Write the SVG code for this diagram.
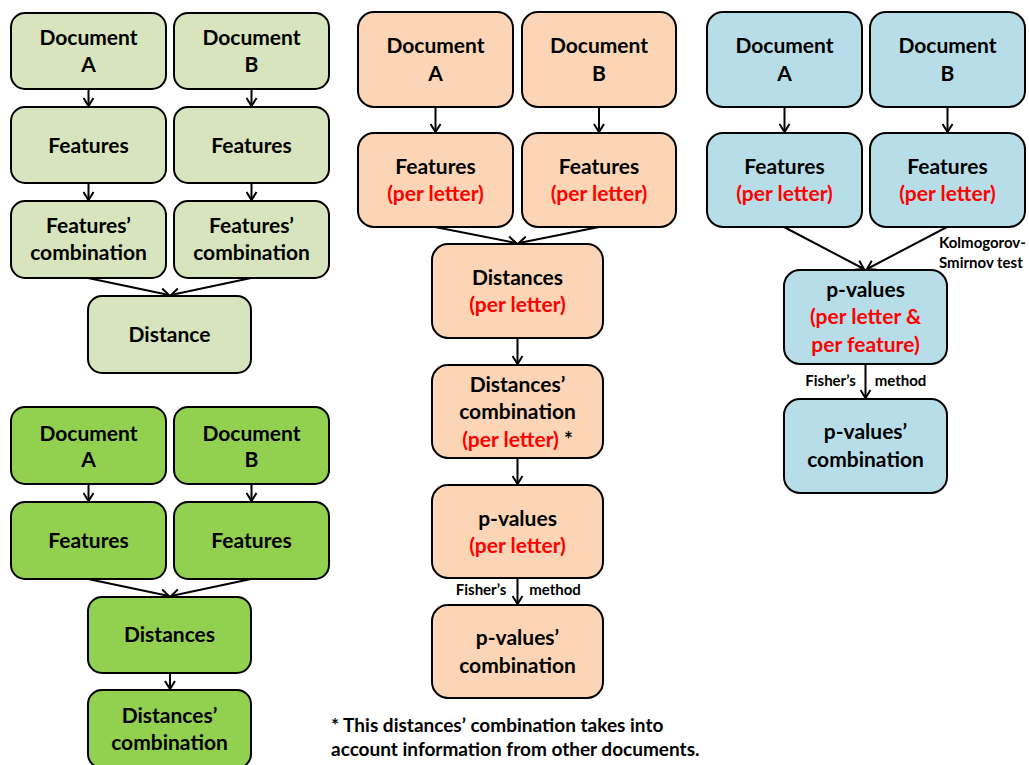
<svg xmlns="http://www.w3.org/2000/svg" width="1029" height="765" viewBox="0 0 1029 765">
<style>
.b{stroke:#000;stroke-width:2}
.lg{fill:#d7e4bd}.g{fill:#92d050}.p{fill:#fbd5b5}.bl{fill:#b7dee8}
text{font-family:Lato,"Liberation Sans",sans-serif;font-weight:bold;font-size:21px;fill:#000;text-anchor:middle}
.r{fill:#ff0000}
.s{font-size:15px}
.fn{font-size:19px;text-anchor:start}
.c{stroke:#000;stroke-width:2;fill:none;marker-end:url(#ah)}
</style>
<defs>
<marker id="ah" viewBox="0 0 12 12" refX="10" refY="6" markerWidth="6" markerHeight="6" markerUnits="strokeWidth" orient="auto">
<path d="M2,1 L10,6 L2,11" fill="none" stroke="#000" stroke-width="2"/>
</marker>
</defs>
<g id="connectors">
<path class="c" d="M88.5,89V106"/><path class="c" d="M251.5,89V106"/>
<path class="c" d="M88.5,183V200"/><path class="c" d="M251.5,183V200"/>
<path class="c" d="M88,278L169,295"/><path class="c" d="M251,278L171,295"/>
<path class="c" d="M88.5,484V501"/><path class="c" d="M251.5,484V501"/>
<path class="c" d="M88,579L169,596"/><path class="c" d="M251,579L171,596"/>
<path class="c" d="M170,673V689"/>
<path class="c" d="M435.5,107V132"/><path class="c" d="M599,107V132"/>
<path class="c" d="M435,227L516,243"/><path class="c" d="M599,227L519,243"/>
<path class="c" d="M517.5,338V364"/><path class="c" d="M517.5,458V484"/><path class="c" d="M517.5,578V604"/>
<path class="c" d="M784.5,107V132"/><path class="c" d="M947.5,107V132"/>
<path class="c" d="M784,227L864,269"/><path class="c" d="M947,227L867,269"/>
<path class="c" d="M865.5,364V398"/>
</g>
<g id="tl-docA"><rect class="b lg" x="11" y="13" width="155" height="76" rx="14"/><text x="88.5" y="45">Document</text><text x="88.5" y="72">A</text></g>
<g id="tl-docB"><rect class="b lg" x="174" y="13" width="155" height="76" rx="14"/><text x="251.5" y="45">Document</text><text x="251.5" y="72">B</text></g>
<g id="tl-featA"><rect class="b lg" x="11" y="107" width="155" height="76" rx="14"/><text x="88.5" y="153">Features</text></g>
<g id="tl-featB"><rect class="b lg" x="174" y="107" width="155" height="76" rx="14"/><text x="251.5" y="153">Features</text></g>
<g id="tl-combA"><rect class="b lg" x="11" y="201" width="155" height="77" rx="14"/><text x="88.5" y="233">Features’</text><text x="88.5" y="260">combination</text></g>
<g id="tl-combB"><rect class="b lg" x="174" y="201" width="155" height="77" rx="14"/><text x="251.5" y="233">Features’</text><text x="251.5" y="260">combination</text></g>
<g id="tl-dist"><rect class="b lg" x="88" y="296" width="163" height="77" rx="14"/><text x="169.5" y="342">Distance</text></g>

<g id="bl-docA"><rect class="b g" x="11" y="407" width="155" height="77" rx="14"/><text x="88.5" y="441">Document</text><text x="88.5" y="467">A</text></g>
<g id="bl-docB"><rect class="b g" x="174" y="407" width="155" height="77" rx="14"/><text x="251.5" y="441">Document</text><text x="251.5" y="467">B</text></g>
<g id="bl-featA"><rect class="b g" x="11" y="502" width="155" height="77" rx="14"/><text x="88.5" y="548">Features</text></g>
<g id="bl-featB"><rect class="b g" x="174" y="502" width="155" height="77" rx="14"/><text x="251.5" y="548">Features</text></g>
<g id="bl-dist"><rect class="b g" x="88" y="597" width="163" height="76" rx="14"/><text x="169.5" y="642">Distances</text></g>
<g id="bl-comb"><rect class="b g" x="88" y="690" width="163" height="78" rx="14"/><text x="169.5" y="723">Distances’</text><text x="169.5" y="750">combination</text></g>

<g id="m-docA"><rect class="b p" x="358" y="12" width="155" height="95" rx="16"/><text x="435.5" y="53">Document</text><text x="435.5" y="81">A</text></g>
<g id="m-docB"><rect class="b p" x="522" y="12" width="154" height="95" rx="16"/><text x="599" y="53">Document</text><text x="599" y="81">B</text></g>
<g id="m-featA"><rect class="b p" x="358" y="133" width="155" height="94" rx="16"/><text x="435.5" y="174">Features</text><text class="r" x="435.5" y="201">(per letter)</text></g>
<g id="m-featB"><rect class="b p" x="522" y="133" width="154" height="94" rx="16"/><text x="599" y="174">Features</text><text class="r" x="599" y="201">(per letter)</text></g>
<g id="m-dist"><rect class="b p" x="432" y="244" width="171" height="94" rx="16"/><text x="517.5" y="285">Distances</text><text class="r" x="517.5" y="312">(per letter)</text></g>
<g id="m-comb"><rect class="b p" x="432" y="365" width="171" height="93" rx="16"/><text x="517.5" y="392">Distances’</text><text x="517.5" y="419">combination</text><text x="517.5" y="447"><tspan class="r">(per letter)</tspan> *</text></g>
<g id="m-pval"><rect class="b p" x="432" y="485" width="171" height="93" rx="16"/><text x="517.5" y="526">p-values</text><text class="r" x="517.5" y="553">(per letter)</text></g>
<g id="m-pcomb"><rect class="b p" x="432" y="605" width="171" height="93" rx="16"/><text x="517.5" y="645">p-values’</text><text x="517.5" y="673">combination</text></g>
<text class="s" x="481" y="595">Fisher’s</text><text class="s" x="555" y="595">method</text>

<g id="r-docA"><rect class="b bl" x="707" y="12" width="155" height="95" rx="16"/><text x="784.5" y="53">Document</text><text x="784.5" y="81">A</text></g>
<g id="r-docB"><rect class="b bl" x="870" y="12" width="155" height="95" rx="16"/><text x="947.5" y="53">Document</text><text x="947.5" y="81">B</text></g>
<g id="r-featA"><rect class="b bl" x="707" y="133" width="155" height="94" rx="16"/><text x="784.5" y="174">Features</text><text class="r" x="784.5" y="201">(per letter)</text></g>
<g id="r-featB"><rect class="b bl" x="870" y="133" width="155" height="94" rx="16"/><text x="947.5" y="174">Features</text><text class="r" x="947.5" y="201">(per letter)</text></g>
<g id="r-pval"><rect class="b bl" x="784" y="270" width="163" height="94" rx="16"/><text x="865.5" y="297">p-values</text><text class="r" x="865.5" y="324">(per letter &amp;</text><text class="r" x="865.5" y="352">per feature)</text></g>
<g id="r-pcomb"><rect class="b bl" x="784" y="399" width="163" height="94" rx="16"/><text x="865.5" y="439">p-values’</text><text x="865.5" y="467">combination</text></g>
<text class="s" x="939" y="248" style="text-anchor:start">Kolmogorov-</text>
<text class="s" x="939" y="268" style="text-anchor:start">Smirnov test</text>
<text class="s" x="830.5" y="386">Fisher’s</text><text class="s" x="900.5" y="386">method</text>

<g id="footnote">
<text class="fn" x="331" y="732">* This distances’ combination takes into</text>
<text class="fn" x="331" y="756">account information from other documents.</text>
</g>
</svg>
